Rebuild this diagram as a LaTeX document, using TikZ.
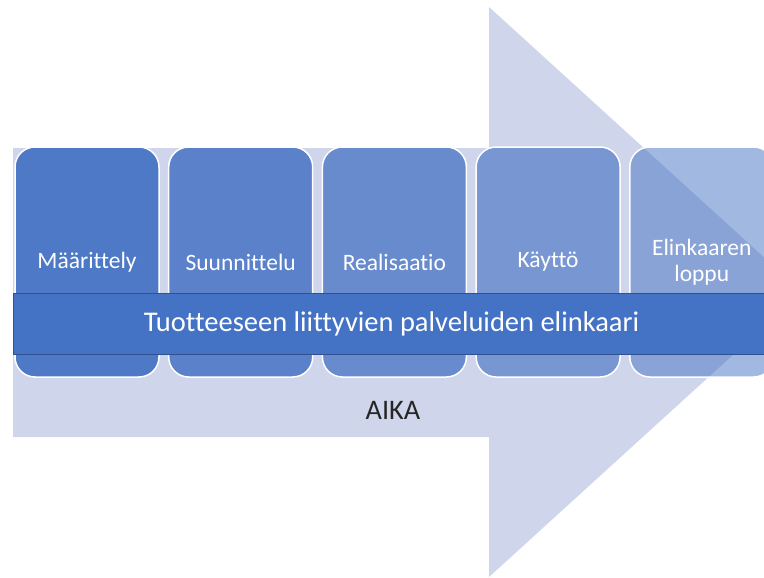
\documentclass[tikz,border=0pt]{standalone}
\usepackage{fontspec}
\setmainfont{Carlito}[Ligatures=NoCommon]
\usetikzlibrary{positioning}

\definecolor{arrowfill}{RGB}{207,213,234}
\definecolor{phasefill}{RGB}{68,114,196}
\definecolor{banddraw}{RGB}{47,82,143}

\tikzset{
  phase/.style={draw=white, line width=1.5pt, fill=phasefill, text=white,
    text opacity=1, draw opacity=1, rounded corners=20pt,
    minimum width=144pt, minimum height=230pt, align=center,
    font=\fontsize{23.5}{26}\selectfont},
  band/.style={draw=banddraw, line width=1pt, fill=phasefill, text=white,
    minimum width=757pt, minimum height=61pt,
    font=\fontsize{28.5}{32}\selectfont}
}

\begin{document}
\begin{tikzpicture}[x=1pt, y=-1pt]
    \useasboundingbox (0,0) rectangle (764,578);
    \clip (0,0) rectangle (764,578);
    % Time arrow in the background
    \fill[arrowfill] (13,148) -- (489,148) -- (489,7) -- (802,292) -- (489,577)
      -- (489,437) -- (13,437) -- cycle;
    % Life cycle phases
    \node[phase, fill opacity=0.92] (maar) at (87,262) {Määrittely};
    \node[phase, fill opacity=0.84, right=8.2pt of maar] (suun) {Suunnittelu};
    \node[phase, fill opacity=0.74, right=8.2pt of suun] (real) {Realisaatio};
    \node[phase, fill opacity=0.62, right=8.2pt of real] (kayt) {Käyttö};
    \node[phase, fill opacity=0.5, right=8.2pt of kayt] (loppu) {Elinkaaren\\loppu};
    % Service life cycle band
    \node[band] (palv) at (391.5,323.5) {Tuotteeseen liittyvien palveluiden elinkaari};
    % Time label
    \node[font=\fontsize{28.3}{32}\selectfont, text=black!85] (aika) at (393,410) {AIKA};
\end{tikzpicture}
\end{document}
